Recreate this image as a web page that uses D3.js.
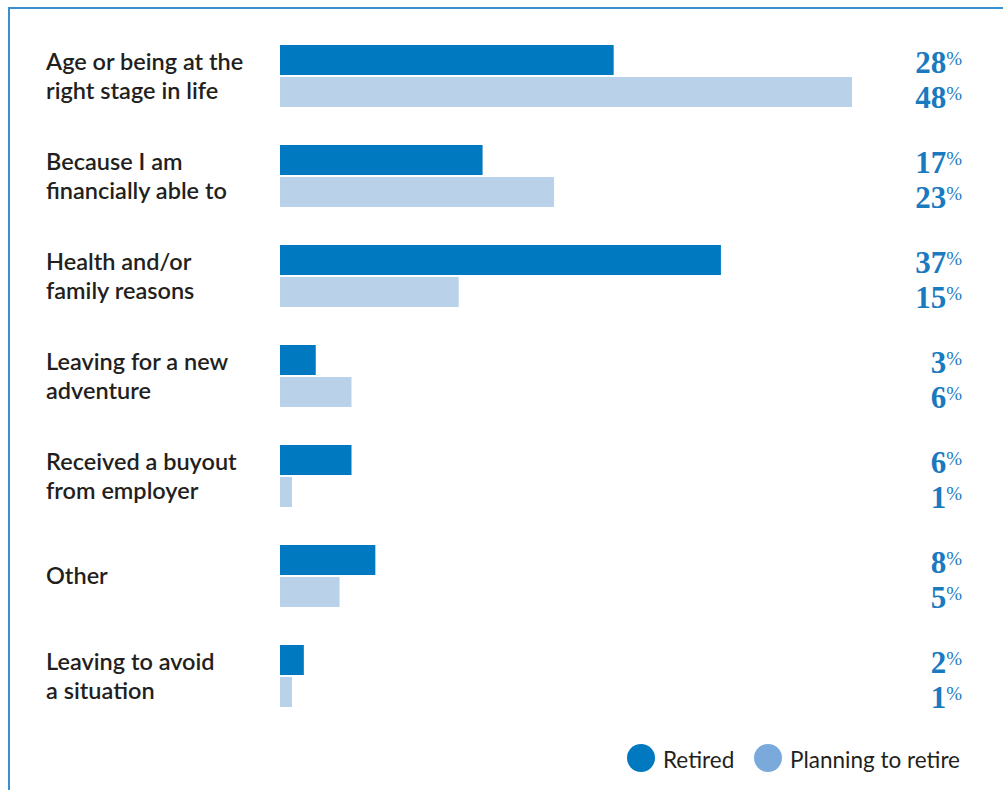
<!DOCTYPE html>
<html><head><meta charset="utf-8">
<script src="https://cdn.jsdelivr.net/npm/d3@7"></script>
<style>body{margin:0;background:#fff}</style>
</head><body>
<svg id="chart" width="1003" height="790"></svg>
<script>
const categories = [
  ["Age or being at the", "right stage in life"],
  ["Because I am", "financially able to"],
  ["Health and/or", "family reasons"],
  ["Leaving for a new", "adventure"],
  ["Received a buyout", "from employer"],
  ["Other"],
  ["Leaving to avoid", "a situation"]
];
const retired = [28, 17, 37, 3, 6, 8, 2];
const planning = [48, 23, 15, 6, 1, 5, 1];
const seriesNames = ["Retired", "Planning to retire"];

const svg = d3.select("#chart");
const cRet = "#0079c1", cPlan = "#bad1ea", cPlanLegend = "#7aaadb", cVal = "#1a7abf", cText = "#231f20";

// frame
svg.append("path").attr("d", "M9,790 V8 H1003").attr("fill", "none").attr("stroke", "#3a8fd0").attr("stroke-width", 2);

const x = d3.scaleLinear().domain([0, 48]).range([280, 852]);
const y = d3.scaleBand().domain(d3.range(categories.length)).range([45, 745]).paddingInner(0).paddingOuter(0);
const barH = 30, gap = 2;

const g = svg.append("g");
const groups = g.selectAll("g.grp").data(categories.map((c, i) => ({c, i, r: retired[i], p: planning[i]})))
  .join("g").attr("class", "grp");

groups.append("rect").attr("x", x(0)).attr("y", d => y(d.i)).attr("width", d => x(d.r) - x(0)).attr("height", barH).attr("fill", cRet);
groups.append("rect").attr("x", x(0)).attr("y", d => y(d.i) + barH + gap).attr("width", d => x(d.p) - x(0)).attr("height", barH).attr("fill", cPlan);

// category labels
groups.each(function(d) {
  const sel = d3.select(this);
  const mid = y(d.i) + barH + gap / 2;
  const n = d.c.length;
  d.c.forEach((line, k) => {
    sel.append("text").attr("x", 46).attr("y", mid + (k - (n - 1) / 2) * 29 + 8)
      .attr("font-family", "Lato, 'Open Sans', sans-serif").attr("font-size", 23.5).attr("font-weight", 600)
      .attr("fill", cText).text(line);
  });
});

// value labels
function valLabel(sel, v, yy) {
  const t = sel.append("text").attr("x", 962).attr("y", yy).attr("text-anchor", "end")
    .attr("font-family", "'Liberation Serif', 'DejaVu Serif', serif").attr("font-weight", "bold").attr("fill", cVal);
  t.append("tspan").attr("font-size", 31).text(v);
  t.append("tspan").attr("font-size", 19).attr("font-weight", "normal").attr("dy", -8).text("%");
}
groups.each(function(d) {
  const sel = d3.select(this);
  valLabel(sel, d.r, y(d.i) + 28);
  valLabel(sel, d.p, y(d.i) + 63);
});

// legend
const leg = svg.append("g");
const legItems = [
  {name: seriesNames[0], color: cRet, cx: 641, tx: 663},
  {name: seriesNames[1], color: cPlanLegend, cx: 768, tx: 790}
];
legItems.forEach(it => {
  leg.append("circle").attr("cx", it.cx).attr("cy", 758).attr("r", 14).attr("fill", it.color);
  leg.append("text").attr("x", it.tx).attr("y", 768).attr("font-family", "Lato, 'Open Sans', sans-serif")
    .attr("font-size", 22.5).attr("fill", cText).text(it.name);
});
</script>
</body></html>
